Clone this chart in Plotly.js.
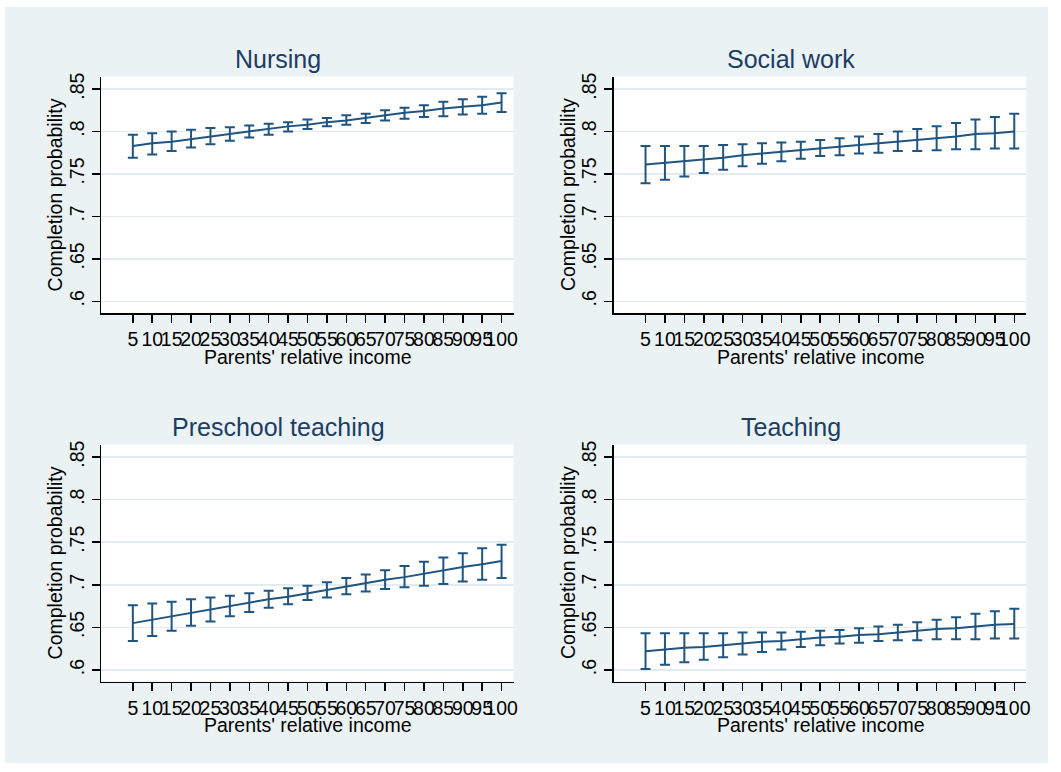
<!DOCTYPE html>
<html>
<head>
<meta charset="utf-8">
<script src="https://cdn.plot.ly/plotly-3.0.1.min.js"></script>
<style>
  html, body { margin: 0; padding: 0; background: #ffffff; width: 1061px; height: 772px; overflow: hidden; }
  #chart { position: absolute; left: 5px; top: 7px; width: 1043px; height: 756px; }
</style>
</head>
<body>
<div id="chart"></div>
<script>
// ---- data ----
const income = [5,10,15,20,25,30,35,40,45,50,55,60,65,70,75,80,85,90,95,100];
const incomeLabels = ["5","10","15","20","25","30","35","40","45","50","55","60","65","70","75","80","85","90","95","100"];
const yTickVals = [0.6, 0.65, 0.7, 0.75, 0.8, 0.85];
const yTickText = [".6", ".65", ".7", ".75", ".8", ".85"];
const panelTitles = ["Nursing", "Social work", "Preschool teaching", "Teaching"];
const xTitle = "Parents' relative income";
const yTitle = "Completion probability";

const nursingMean = [.783,.786,.788,.791,.794,.797,.800,.803,.806,.808,.811,.813,.816,.819,.822,.824,.827,.829,.831,.834];
const nursingHi   = [.796,.798,.800,.802,.804,.805,.807,.809,.811,.814,.816,.819,.821,.825,.828,.831,.835,.838,.841,.845];
const nursingLo   = [.769,.773,.777,.781,.785,.789,.793,.796,.800,.803,.806,.808,.810,.813,.815,.817,.818,.820,.821,.823];

const socialMean = [.761,.763,.765,.767,.769,.772,.774,.776,.778,.780,.782,.784,.786,.788,.790,.792,.794,.797,.798,.800];
const socialHi   = [.783,.783,.783,.783,.784,.785,.786,.787,.788,.790,.792,.794,.797,.800,.803,.806,.810,.814,.817,.821];
const socialLo   = [.739,.743,.747,.751,.755,.759,.762,.765,.768,.771,.772,.774,.775,.777,.777,.778,.779,.779,.780,.780];

const preschoolMean = [.655,.659,.663,.667,.671,.675,.679,.683,.686,.690,.694,.698,.702,.706,.709,.713,.717,.721,.724,.728];
const preschoolHi   = [.676,.678,.680,.683,.685,.687,.690,.693,.696,.699,.703,.708,.712,.717,.722,.727,.732,.737,.743,.747];
const preschoolLo   = [.634,.640,.646,.652,.657,.663,.668,.673,.677,.682,.685,.689,.692,.695,.697,.699,.701,.704,.706,.708];

const teachingMean = [.622,.624,.626,.627,.629,.631,.633,.634,.636,.638,.639,.641,.642,.644,.646,.648,.649,.651,.653,.654];
const teachingHi   = [.643,.643,.643,.643,.643,.644,.644,.644,.645,.646,.647,.649,.651,.653,.656,.659,.662,.666,.669,.672];
const teachingLo   = [.601,.606,.609,.612,.615,.618,.621,.624,.627,.629,.631,.632,.634,.635,.635,.636,.636,.636,.637,.637];

const series = [
  {mean: nursingMean, hi: nursingHi, lo: nursingLo},
  {mean: socialMean, hi: socialHi, lo: socialLo},
  {mean: preschoolMean, hi: preschoolHi, lo: preschoolLo},
  {mean: teachingMean, hi: teachingHi, lo: teachingLo}
];

// ---- style / layout ----
const FONT = "'Liberation Sans', Arial, Helvetica, sans-serif";
const lineColor = "#1f5580";
const titleColor = "#1c3d66";
const bgColor = "#eaf2f3";
const gridColor = "#e2ecef";
const W = 1043, H = 756;
const px = x => (x - 5) / W;
const py = y => 1 - (y - 7) / H;

const xDomains = [[px(101), px(513.6)], [px(613.7), px(1026.3)]];
const yDomains = [[py(313), py(76.7)], [py(681.7), py(444.7)]];

const traces = [];
const layout = {
  width: W, height: H,
  margin: {l: 0, r: 0, t: 0, b: 0},
  paper_bgcolor: bgColor,
  plot_bgcolor: "#ffffff",
  showlegend: false,
  font: {family: FONT, color: "#000000"},
  annotations: []
};

series.forEach((s, i) => {
  const n = i + 1;
  const col = i % 2, row = Math.floor(i / 2);
  const xa = n === 1 ? "x" : "x" + n;
  const ya = n === 1 ? "y" : "y" + n;
  traces.push({
    type: "scatter", mode: "lines",
    x: income, y: s.mean,
    xaxis: xa, yaxis: ya,
    line: {color: lineColor, width: 2},
    error_y: {
      type: "data", symmetric: false,
      array: s.hi.map((h, k) => h - s.mean[k]),
      arrayminus: s.lo.map((l, k) => s.mean[k] - l),
      color: lineColor, thickness: 2, width: 5
    },
    hoverinfo: "skip"
  });
  layout["xaxis" + (n === 1 ? "" : n)] = {
    domain: xDomains[col], anchor: ya,
    range: [-3.2, 103.1],
    tickmode: "array", tickvals: income, ticktext: incomeLabels,
    tickangle: 0,
    ticks: "outside", ticklen: 8, tickwidth: 1.5, tickcolor: "#000",
    showline: true, linecolor: "#000", linewidth: 1.5,
    showgrid: false, zeroline: false,
    tickfont: {family: FONT, size: 19.5, color: "#000"},
    fixedrange: true
  };
  layout["yaxis" + (n === 1 ? "" : n)] = {
    domain: yDomains[row], anchor: xa,
    range: [0.5862, 0.8645],
    tickmode: "array", tickvals: yTickVals, ticktext: yTickText,
    tickangle: -90,
    ticks: "outside", ticklen: 8, tickwidth: 1.5, tickcolor: "#000",
    showline: true, linecolor: "#000", linewidth: 1.5,
    showgrid: true, gridcolor: gridColor, gridwidth: 1.5,
    zeroline: false,
    tickfont: {family: FONT, size: 19.5, color: "#000"},
    fixedrange: true
  };
  const dx = col * 512.7;
  const dy = row * 368;
  // panel title
  layout.annotations.push({
    xref: "paper", yref: "paper", x: px(278.2 + dx), y: py(59 + dy),
    xanchor: "center", yanchor: "middle", showarrow: false,
    text: panelTitles[i], font: {family: FONT, size: 25, color: titleColor}
  });
  // x title
  layout.annotations.push({
    xref: "paper", yref: "paper", x: px(307.3 + dx), y: py(357 + dy),
    xanchor: "center", yanchor: "middle", showarrow: false,
    text: xTitle, font: {family: FONT, size: 19.5, color: "#000"}
  });
  // y title
  layout.annotations.push({
    xref: "paper", yref: "paper", x: px(55.4 + dx), y: py(195 + dy),
    xanchor: "center", yanchor: "middle", showarrow: false, textangle: -90,
    text: yTitle, font: {family: FONT, size: 19.5, color: "#000"}
  });
});

Plotly.newPlot("chart", traces, layout, {displayModeBar: false, staticPlot: true});
</script>
</body>
</html>
